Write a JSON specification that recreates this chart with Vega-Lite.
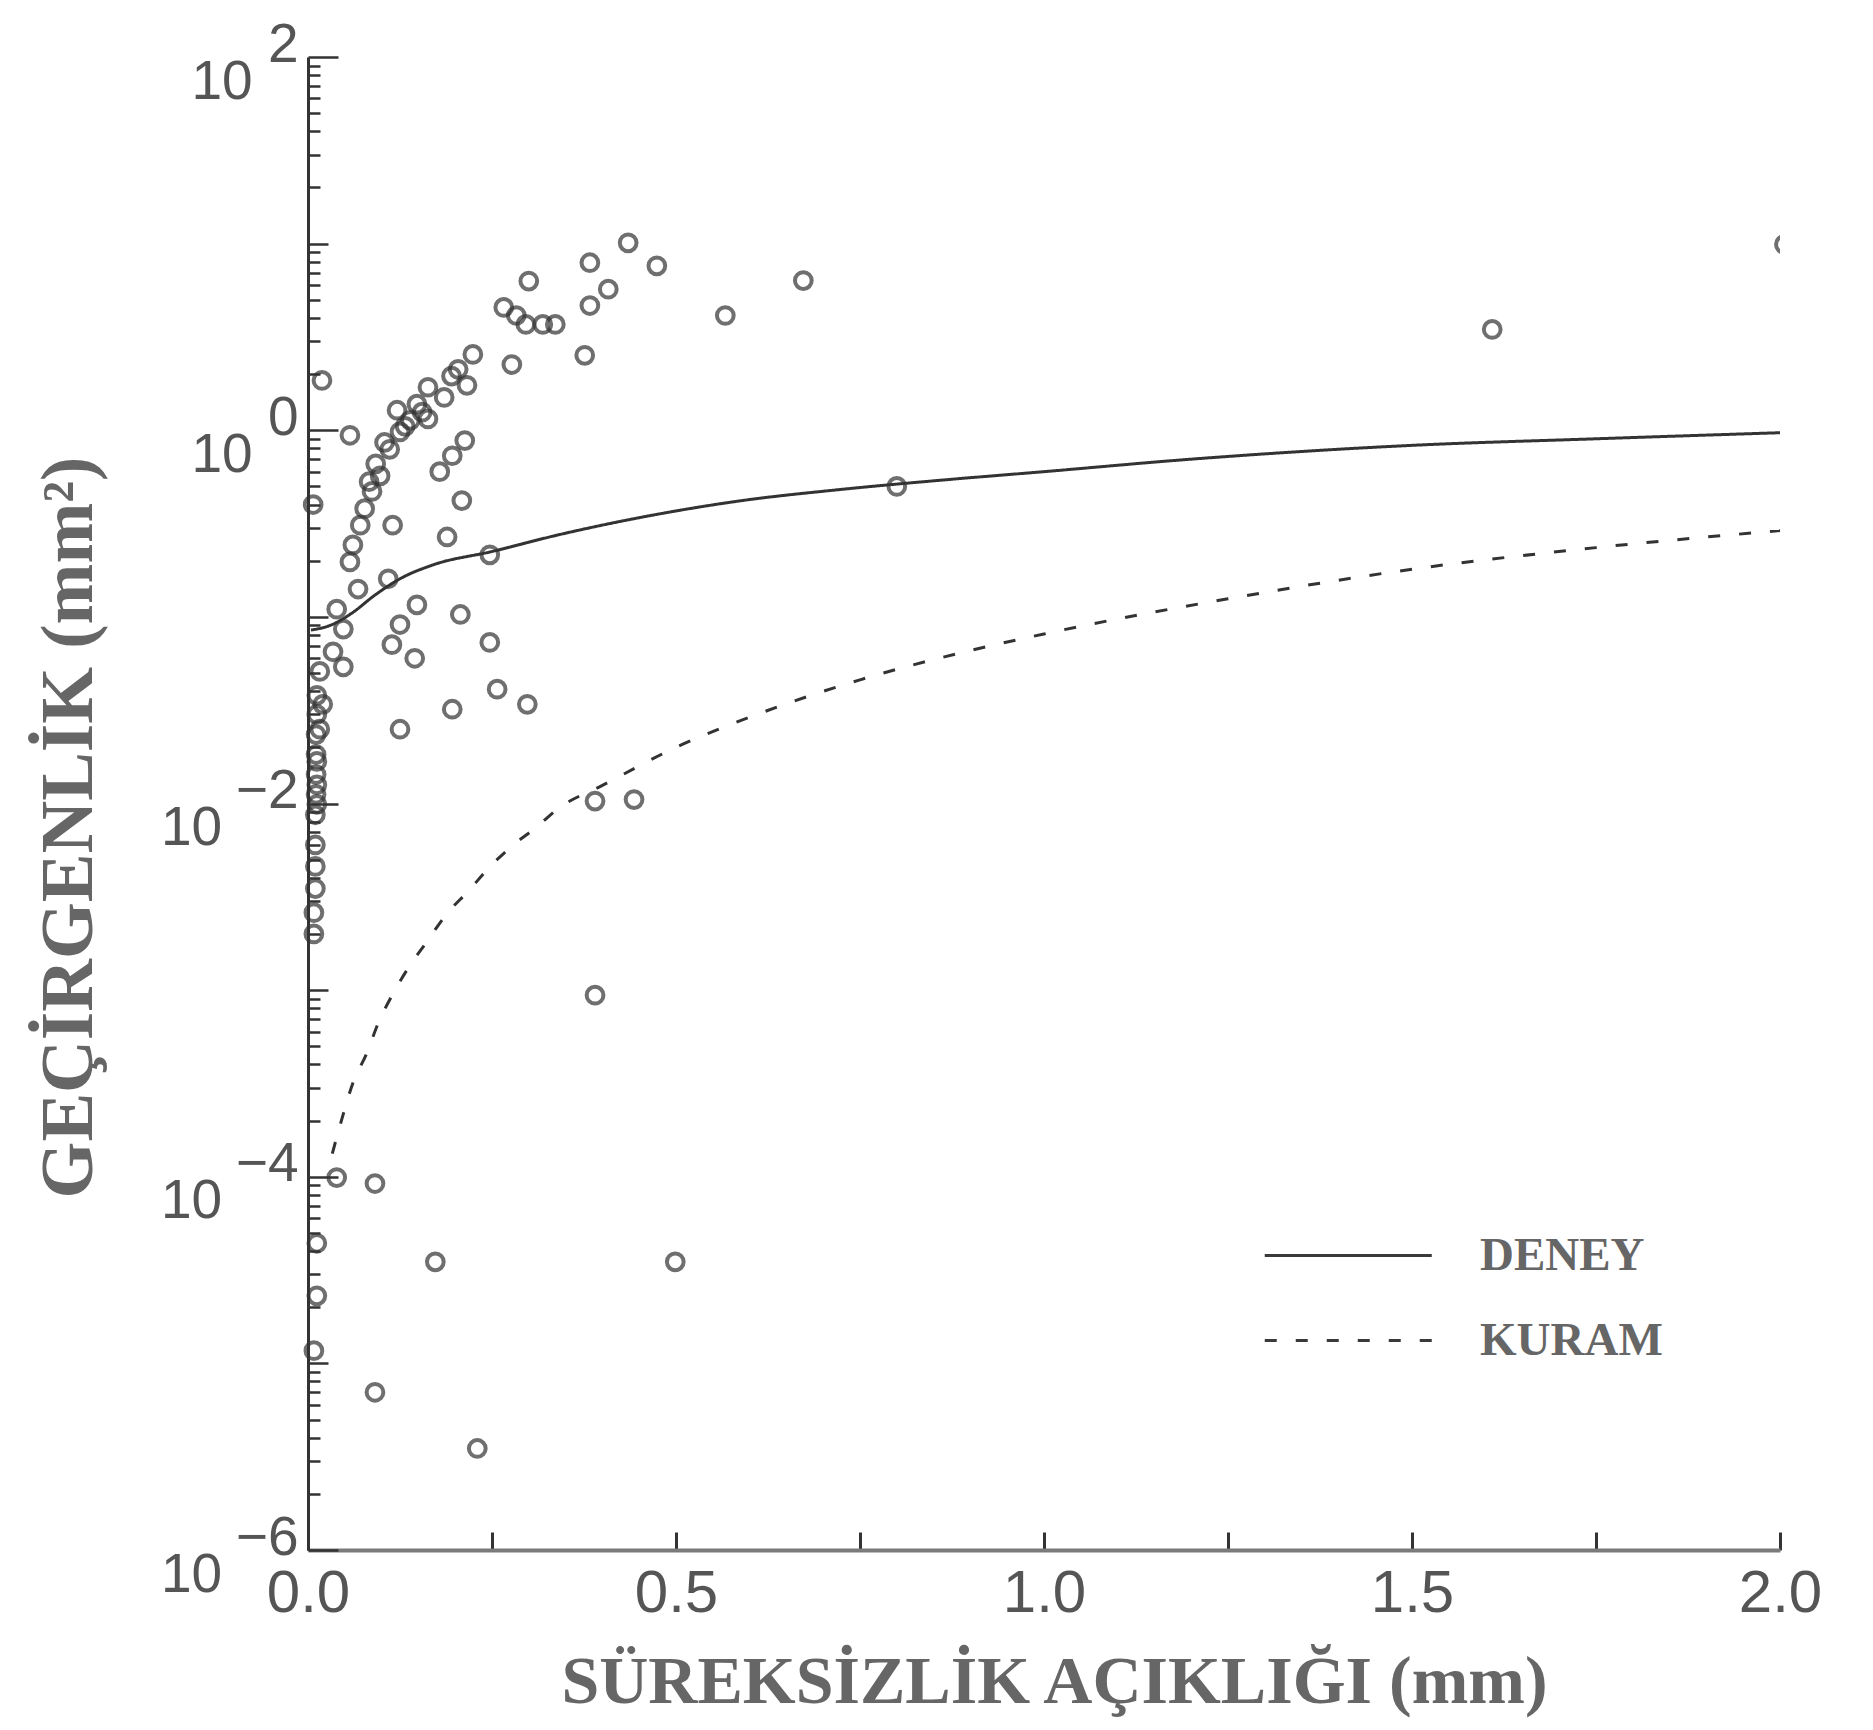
{
  "$schema": "https://vega.github.io/schema/vega-lite/v6.json",
  "width": 1472,
  "height": 1493,
  "autosize": "none",
  "padding": {"left": 308, "top": 57, "right": 93, "bottom": 180},
  "background": "white",
  "config": {"view": {"stroke": null}, "axis": {"grid": false}},
  "datasets": {
    "pts": [
      {"x": 0.019, "k": 1.85}, {"x": 0.057, "k": 0.94}, {"x": 0.224, "k": 2.55}, {"x": 0.204, "k": 2.12},
      {"x": 0.216, "k": 1.74}, {"x": 0.163, "k": 1.70}, {"x": 0.148, "k": 1.38}, {"x": 0.121, "k": 1.28},
      {"x": 0.163, "k": 1.15}, {"x": 0.139, "k": 1.13}, {"x": 0.125, "k": 0.98}, {"x": 0.111, "k": 0.79},
      {"x": 0.098, "k": 0.57}, {"x": 0.087, "k": 0.47}, {"x": 0.077, "k": 0.38}, {"x": 0.071, "k": 0.31},
      {"x": 0.061, "k": 0.243}, {"x": 0.057, "k": 0.197}, {"x": 0.068, "k": 0.141}, {"x": 0.039, "k": 0.110},
      {"x": 0.048, "k": 0.086}, {"x": 0.034, "k": 0.065}, {"x": 0.048, "k": 0.054}, {"x": 0.016, "k": 0.051},
      {"x": 0.020, "k": 0.034}, {"x": 0.016, "k": 0.025}, {"x": 0.012, "k": 0.0168}, {"x": 0.012, "k": 0.0126},
      {"x": 0.012, "k": 0.0099}, {"x": 0.007, "k": 0.40}, {"x": 0.277, "k": 2.25},
      {"x": 0.092, "k": 0.66}, {"x": 0.104, "k": 0.86}, {"x": 0.083, "k": 0.53}, {"x": 0.132, "k": 1.05},
      {"x": 0.155, "k": 1.25}, {"x": 0.185, "k": 1.5}, {"x": 0.195, "k": 1.95},
      {"x": 0.213, "k": 0.88}, {"x": 0.196, "k": 0.73}, {"x": 0.179, "k": 0.60}, {"x": 0.209, "k": 0.42},
      {"x": 0.115, "k": 0.31}, {"x": 0.189, "k": 0.268}, {"x": 0.109, "k": 0.160}, {"x": 0.247, "k": 0.215},
      {"x": 0.148, "k": 0.116}, {"x": 0.125, "k": 0.091}, {"x": 0.114, "k": 0.071}, {"x": 0.145, "k": 0.060},
      {"x": 0.207, "k": 0.103}, {"x": 0.247, "k": 0.073}, {"x": 0.257, "k": 0.041}, {"x": 0.298, "k": 0.034},
      {"x": 0.196, "k": 0.032}, {"x": 0.125, "k": 0.025},
      {"x": 0.435, "k": 10.1}, {"x": 0.383, "k": 7.9}, {"x": 0.474, "k": 7.6}, {"x": 0.408, "k": 5.7},
      {"x": 0.383, "k": 4.66}, {"x": 0.336, "k": 3.69}, {"x": 0.319, "k": 3.69}, {"x": 0.296, "k": 3.69},
      {"x": 0.283, "k": 4.12}, {"x": 0.266, "k": 4.55}, {"x": 0.300, "k": 6.3}, {"x": 0.376, "k": 2.52},
      {"x": 0.567, "k": 4.12}, {"x": 0.673, "k": 6.34},
      {"x": 0.800, "k": 0.50}, {"x": 1.609, "k": 3.47}, {"x": 2.006, "k": 9.9},
      {"x": 0.039, "k": 0.000099}, {"x": 0.091, "k": 0.000092}, {"x": 0.173, "k": 0.000035}, {"x": 0.499, "k": 0.000035},
      {"x": 0.091, "k": 0.000007}, {"x": 0.230, "k": 0.0000035}, {"x": 0.390, "k": 0.00094}, {"x": 0.390, "k": 0.0103},
      {"x": 0.443, "k": 0.0105},
      {"x": 0.012, "k": 0.038}, {"x": 0.012, "k": 0.030}, {"x": 0.011, "k": 0.0234}, {"x": 0.011, "k": 0.0183},
      {"x": 0.011, "k": 0.0143}, {"x": 0.011, "k": 0.0112}, {"x": 0.010, "k": 0.0087}, {"x": 0.010, "k": 0.0060},
      {"x": 0.010, "k": 0.0046}, {"x": 0.010, "k": 0.0035}, {"x": 0.008, "k": 0.0026}, {"x": 0.008, "k": 0.0020},
      {"x": 0.012, "k": 0.000044}, {"x": 0.012, "k": 0.000023}, {"x": 0.008, "k": 0.0000117}
    ],
    "lines": [
      {"series": "DENEY", "x": 0.004, "k": 0.085}, {"series": "DENEY", "x": 0.03, "k": 0.09},
      {"series": "DENEY", "x": 0.06, "k": 0.105}, {"series": "DENEY", "x": 0.09, "k": 0.13},
      {"series": "DENEY", "x": 0.125, "k": 0.16}, {"series": "DENEY", "x": 0.17, "k": 0.19},
      {"series": "DENEY", "x": 0.25, "k": 0.224}, {"series": "DENEY", "x": 0.34, "k": 0.275},
      {"series": "DENEY", "x": 0.45, "k": 0.34}, {"series": "DENEY", "x": 0.59, "k": 0.42},
      {"series": "DENEY", "x": 0.72, "k": 0.48}, {"series": "DENEY", "x": 0.86, "k": 0.54},
      {"series": "DENEY", "x": 1.0, "k": 0.6}, {"series": "DENEY", "x": 1.2, "k": 0.70},
      {"series": "DENEY", "x": 1.5, "k": 0.83}, {"series": "DENEY", "x": 1.75, "k": 0.9},
      {"series": "DENEY", "x": 2.0, "k": 0.97},
      {"series": "KURAM", "x": 0.033, "k": 0.000133}, {"series": "KURAM", "x": 0.048, "k": 0.000217},
      {"series": "KURAM", "x": 0.061, "k": 0.000318}, {"series": "KURAM", "x": 0.080, "k": 0.00046},
      {"series": "KURAM", "x": 0.095, "k": 0.00066}, {"series": "KURAM", "x": 0.115, "k": 0.00095},
      {"series": "KURAM", "x": 0.136, "k": 0.00131}, {"series": "KURAM", "x": 0.162, "k": 0.00183},
      {"series": "KURAM", "x": 0.186, "k": 0.00249}, {"series": "KURAM", "x": 0.220, "k": 0.00347},
      {"series": "KURAM", "x": 0.245, "k": 0.00449}, {"series": "KURAM", "x": 0.279, "k": 0.0060},
      {"series": "KURAM", "x": 0.311, "k": 0.0075}, {"series": "KURAM", "x": 0.340, "k": 0.0094},
      {"series": "KURAM", "x": 0.4, "k": 0.0125}, {"series": "KURAM", "x": 0.5, "k": 0.020},
      {"series": "KURAM", "x": 0.6, "k": 0.029}, {"series": "KURAM", "x": 0.75, "k": 0.046},
      {"series": "KURAM", "x": 0.9, "k": 0.066}, {"series": "KURAM", "x": 1.0, "k": 0.081},
      {"series": "KURAM", "x": 1.25, "k": 0.125}, {"series": "KURAM", "x": 1.5, "k": 0.18},
      {"series": "KURAM", "x": 1.75, "k": 0.235}, {"series": "KURAM", "x": 2.0, "k": 0.29}
    ]
  },
  "encoding": {
    "x": {
      "field": "x", "type": "quantitative",
      "scale": {"domain": [0, 2], "nice": false, "zero": false},
      "axis": {
        "values": [0, 0.25, 0.5, 0.75, 1, 1.25, 1.5, 1.75, 2],
        "labelExpr": "datum.value % 0.5 == 0 ? format(datum.value, '.1f') : ''",
        "tickSize": -18, "tickWidth": 3, "tickColor": "#333333",
        "domainColor": "#7a7a7a", "domainWidth": 4,
        "labelFont": "Liberation Sans", "labelFontSize": 60, "labelColor": "#555555",
        "labelPadding": 32, "labelBaseline": "top", "labelFlush": false, "labelOverlap": false,
        "title": "SÜREKSİZLİK AÇIKLIĞI (mm)",
        "titleFont": "Liberation Serif", "titleFontWeight": "bold", "titleFontSize": 68, "titleColor": "#666666",
        "titleX": 746, "titleY": 152, "titleBaseline": "alphabetic", "titleAlign": "center"
      }
    },
    "y": {
      "field": "k", "type": "quantitative",
      "scale": {"type": "log", "domain": [0.000001, 100], "nice": false},
      "axis": {
        "values": [0.000001, 0.000002, 0.000003, 0.000004, 0.000005, 0.000006, 0.000007, 0.000008, 0.000009,
                   0.00001, 0.00002, 0.00003, 0.00004, 0.00005, 0.00006, 0.00007, 0.00008, 0.00009,
                   0.0001, 0.0002, 0.0003, 0.0004, 0.0005, 0.0006, 0.0007, 0.0008, 0.0009,
                   0.001, 0.002, 0.003, 0.004, 0.005, 0.006, 0.007, 0.008, 0.009,
                   0.01, 0.02, 0.03, 0.04, 0.05, 0.06, 0.07, 0.08, 0.09,
                   0.1, 0.2, 0.3, 0.4, 0.5, 0.6, 0.7, 0.8, 0.9,
                   1, 2, 3, 4, 5, 6, 7, 8, 9,
                   10, 20, 30, 40, 50, 60, 70, 80, 90, 100],
        "labelExpr": "datum.value == 100 ? ['2', '10\u00a0\u00a0\u00a0\u200b'] : datum.value == 1 ? ['0', '10\u00a0\u00a0\u00a0\u200b'] : datum.value == 0.01 ? ['\u22122', '10\u00a0\u00a0\u00a0\u00a0\u00a0\u200b'] : datum.value == 0.0001 ? ['\u22124', '10\u00a0\u00a0\u00a0\u00a0\u00a0\u200b'] : datum.value == 0.000001 ? ['\u22126', '10\u00a0\u00a0\u00a0\u00a0\u00a0\u200b'] : ''",
        "tickSize": {"condition": [
          {"test": "indexof([100, 1, 0.01, 0.0001, 0.000001], datum.value) >= 0", "value": -30},
          {"test": "indexof([10, 0.1, 0.001, 0.00001], datum.value) >= 0", "value": -20}
        ], "value": -12},
        "tickWidth": 2.5, "tickColor": "#333333",
        "domainColor": "#333333", "domainWidth": 3,
        "labelFont": "Liberation Sans", "labelFontSize": 55, "labelColor": "#555555", "labelLineHeight": 37,
        "labelPadding": 40, "labelBaseline": "alphabetic", "labelOffset": 4, "labelAlign": "right",
        "labelFlush": false, "labelOverlap": false, "labelLimit": 0,
        "title": "GEÇİRGENLİK (mm²)",
        "titleFont": "Liberation Serif", "titleFontWeight": "bold", "titleFontSize": 73, "titleColor": "#666666",
        "titleX": -217, "titleY": 770, "titleAngle": 270, "titleBaseline": "alphabetic", "titleAlign": "center"
      }
    }
  },
  "layer": [
    {
      "data": {"name": "lines"},
      "mark": {"type": "line", "color": "#333333", "strokeWidth": 3, "interpolate": "monotone"},
      "encoding": {
        "strokeDash": {
          "field": "series", "type": "nominal",
          "scale": {"domain": ["DENEY", "KURAM"], "range": [[1, 0], [12, 19]]},
          "legend": {
            "orient": "none", "legendX": 955, "legendY": 1155, "title": null,
            "symbolType": "M-1,0H3", "symbolSize": 6972, "symbolStrokeWidth": 3, "symbolStrokeColor": "#3a3a3a",
            "labelFont": "Liberation Serif", "labelFontWeight": "bold", "labelFontSize": 47, "labelColor": "#666666",
            "labelOffset": 130, "labelLimit": 0, "rowPadding": 18
          }
        }
      }
    },
    {
      "data": {"name": "pts"},
      "transform": [{"filter": "datum.x <= 2"}],
      "mark": {"type": "point", "shape": "circle", "filled": false, "stroke": "#333333", "strokeWidth": 4, "size": 280}
    },
    {
      "data": {"name": "pts"},
      "transform": [{"filter": "datum.x > 2"}],
      "mark": {"type": "point", "shape": "circle", "filled": false, "stroke": "#333333", "strokeWidth": 4, "size": 280, "clip": true}
    }
  ]
}
